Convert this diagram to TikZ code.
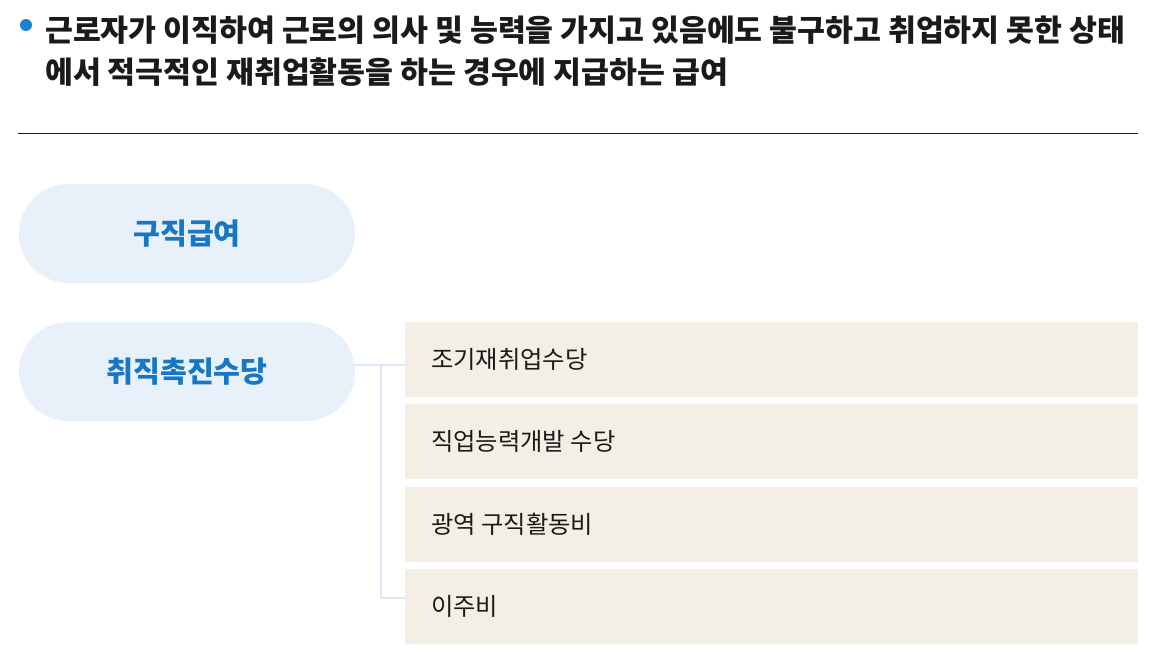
\documentclass[tikz,border=0pt]{standalone}
\usepackage{fontspec}
\usepackage{tikz}
\usetikzlibrary{positioning}
\setmainfont{Noto Sans CJK KR}

\definecolor{dotblue}{HTML}{1A80D0}
\definecolor{pillfill}{HTML}{E8F1FA}
\definecolor{pilltext}{HTML}{1877C4}
\definecolor{boxfill}{HTML}{F4EFE4}
\definecolor{linkblue}{HTML}{DDE8F6}
\definecolor{inkdark}{HTML}{1A1A1A}

\tikzset{
  pill/.style={fill=pillfill, rounded corners=49.5pt, minimum width=336pt,
    minimum height=99pt, inner sep=0pt, text=pilltext,
    font=\fontsize{29.2}{32}\selectfont\bfseries},
  itembox/.style={fill=boxfill, minimum width=733pt, minimum height=75pt,
    inner sep=0pt, anchor=north west},
  itemtext/.style={anchor=west, inner sep=0pt, text=inkdark,
    font=\fontsize{24.3}{28}\selectfont},
  conn/.style={draw=linkblue, line width=2pt}
}

\begin{document}
\begin{tikzpicture}[x=1pt,y=-1pt]
  \useasboundingbox (0,0) rectangle (1157,662);

  % heading
  \fill[dotblue] (26,25) circle (6pt);
  \node[anchor=west, align=left, inner sep=0pt, text=inkdark,
    font=\fontsize{30.3}{42}\selectfont\bfseries] (title) at (45,51)
    {근로자가 이직하여 근로의 의사 및 능력을 가지고 있음에도 불구하고 취업하지 못한 상태\\
     에서 적극적인 재취업활동을 하는 경우에 지급하는 급여};
  \draw[inkdark, line width=1pt] (18,133) -- (1138,133);

  % benefits
  \node[pill] (ben1) at (187,233.5) {구직급여};
  \node[pill] (ben2) at (187,371.5) {취직촉진수당};

  % allowances
  \node[itembox] (box1) at (405,322) {};
  \node[itembox] (box2) at (405,404) {};
  \node[itembox] (box3) at (405,487) {};
  \node[itembox] (box4) at (405,569) {};
  \node[itemtext] (lab1) at ([xshift=26pt]box1.west) {조기재취업수당};
  \node[itemtext] (lab2) at ([xshift=26pt]box2.west) {직업능력개발 수당};
  \node[itemtext] (lab3) at ([xshift=26pt]box3.west) {광역 구직활동비};
  \node[itemtext] (lab4) at ([xshift=26pt]box4.west) {이주비};

  % links
  \coordinate (fork) at (381,365);
  \draw[conn] (ben2.east |- fork) -- (box1.west |- fork);
  \draw[conn] (fork) |- (box4.west |- 0,598);
\end{tikzpicture}
\end{document}
